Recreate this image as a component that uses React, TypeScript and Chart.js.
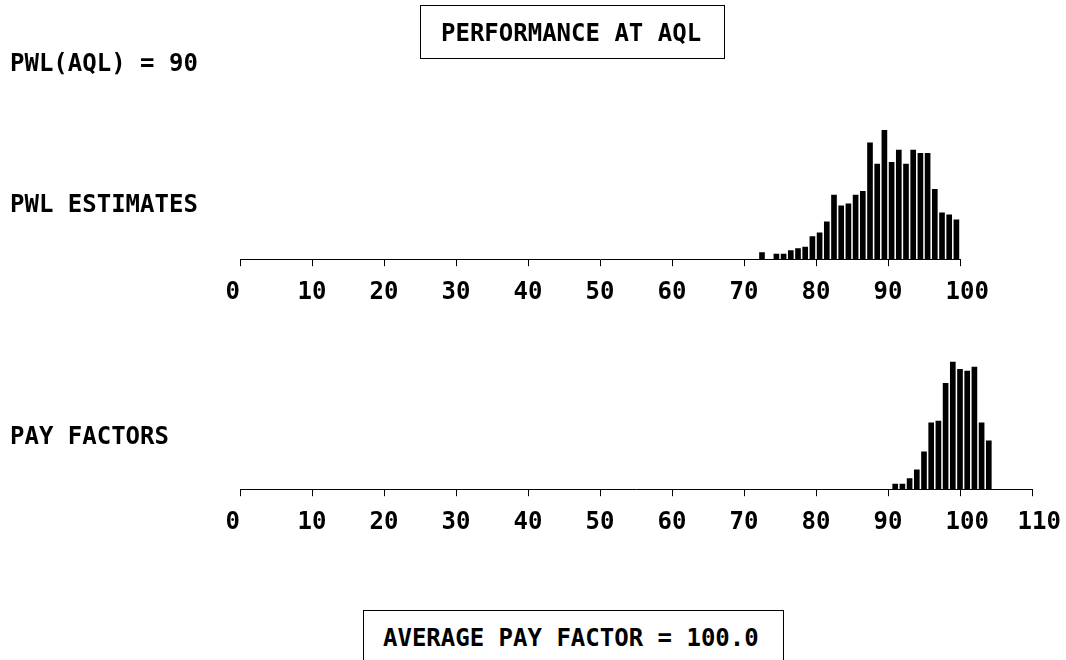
import React, { useEffect, useRef } from 'react';
import { Chart, registerables } from 'chart.js';

Chart.register(...registerables);

// PWL estimates histogram: bin lower edges and bar heights
const pwlBins = [72, 74, 75, 76, 77, 78, 79, 80, 81, 82, 83, 84, 85, 86, 87, 88, 89, 90, 91, 92, 93, 94, 95, 96, 97, 98, 99];
const pwlFreq = [6.7, 5, 5, 8.7, 10.7, 12, 22.7, 26.3, 37.3, 64, 53.3, 55.3, 64, 67.7, 116.3, 95, 128.7, 96.7, 109, 95, 109, 105.7, 105.7, 69.7, 46.3, 44.3, 39.3];
const pwlTicks = [0, 10, 20, 30, 40, 50, 60, 70, 80, 90, 100];

// Pay factors histogram
const payBins = [91, 92, 93, 94, 95, 96, 97, 98, 99, 100, 101, 102, 103, 104];
const payFreq = [5, 5, 10.7, 19.3, 37.3, 66.3, 68, 105.7, 127, 119.7, 118, 122, 66.3, 48.3];
const payTicks = [0, 10, 20, 30, 40, 50, 60, 70, 80, 90, 100, 110];

const FONT = "'DejaVu Sans Mono', 'Liberation Mono', monospace";
const CANVAS_W = 1120;

function padLabel(v: number | string): string {
  const s = String(v);
  if (s.length === 1) return s + '\u00A0';
  if (s.length === 3) return '\u00A0' + s;
  return s;
}

function makeChart(canvas: HTMLCanvasElement, xs: number[], ys: number[], ticks: number[], padRight: number) {
  return new Chart(canvas, {
    type: 'bar',
    data: {
      datasets: [
        {
          data: xs.map((x, i) => ({ x, y: ys[i] })) as any,
          backgroundColor: '#000',
          borderWidth: 0,
          barThickness: 5,
        },
      ],
    },
    options: {
      responsive: false,
      animation: false,
      devicePixelRatio: 1,
      layout: { padding: { left: 240, right: padRight, top: 119, bottom: 0 } },
      plugins: { legend: { display: false }, tooltip: { enabled: false }, title: { display: false } },
      scales: {
        x: {
          type: 'linear',
          min: ticks[0],
          max: ticks[ticks.length - 1],
          offset: false,
          afterBuildTicks: (s: any) => {
            s.ticks = ticks.map((v) => ({ value: v }));
          },
          grid: { display: true, drawOnChartArea: false, drawTicks: true, tickLength: 7, color: '#000', lineWidth: 1, offset: false },
          border: { display: true, color: '#000', width: 1 },
          ticks: {
            autoSkip: false,
            maxRotation: 0,
            minRotation: 0,
            padding: 12,
            color: '#000',
            font: { family: FONT, size: 24, weight: 'bold' },
            callback: (v: any) => padLabel(v),
          },
        },
        y: { display: false, min: 0, max: 140 },
      },
    } as any,
  });
}

export default function App() {
  const topRef = useRef<HTMLCanvasElement>(null);
  const botRef = useRef<HTMLCanvasElement>(null);

  useEffect(() => {
    const a = makeChart(topRef.current!, pwlBins.map((b) => b + 0.5), pwlFreq, pwlTicks, CANVAS_W - 960);
    const b = makeChart(botRef.current!, payBins, payFreq, payTicks, CANVAS_W - 1032);
    return () => {
      a.destroy();
      b.destroy();
    };
  }, []);

  const text: React.CSSProperties = {
    position: 'absolute',
    fontFamily: FONT,
    fontWeight: 'bold',
    fontSize: 24,
    lineHeight: '24px',
    whiteSpace: 'pre',
    color: '#000',
  };

  return (
    <div style={{ position: 'absolute', left: 0, top: 0, width: 1066, height: 660, overflow: 'hidden', background: '#fff' }}>
      <canvas ref={topRef} width={CANVAS_W} height={319} style={{ position: 'absolute', left: 0, top: 0, width: CANVAS_W, height: 319 }} />
      <canvas ref={botRef} width={CANVAS_W} height={319} style={{ position: 'absolute', left: 0, top: 230, width: CANVAS_W, height: 319 }} />
      <div style={{ position: 'absolute', left: 420, top: 5, width: 305, height: 54, border: '1px solid #000', boxSizing: 'border-box' }} />
      <div style={{ ...text, left: 441, top: 20.5 }}>PERFORMANCE AT AQL</div>
      <div style={{ ...text, left: 10, top: 50.5 }}>PWL(AQL) = 90</div>
      <div style={{ ...text, left: 10, top: 192 }}>PWL ESTIMATES</div>
      <div style={{ ...text, left: 10, top: 424 }}>PAY FACTORS</div>
      <div style={{ position: 'absolute', left: 363, top: 610, width: 421, height: 80, border: '1px solid #000', boxSizing: 'border-box' }} />
      <div style={{ ...text, left: 383, top: 625.5 }}>AVERAGE PAY FACTOR = 100.0</div>
    </div>
  );
}
